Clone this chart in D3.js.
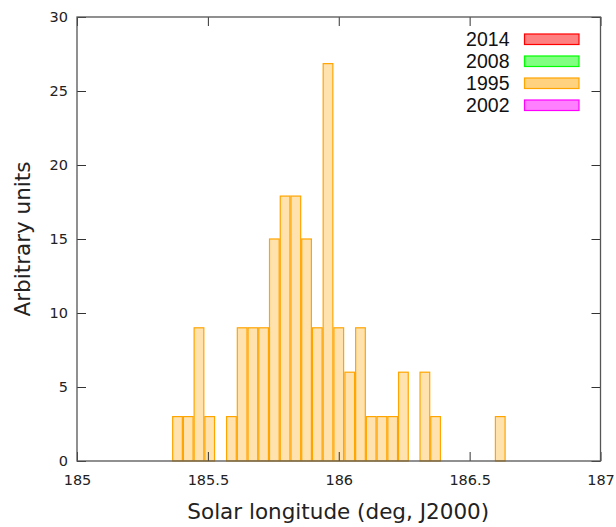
<!DOCTYPE html>
<html>
<head>
<meta charset="utf-8">
<script src="https://cdn.jsdelivr.net/npm/d3@7/dist/d3.min.js"></script>
<style>
  body { margin: 0; background: #fff; }
  svg { display: block; }
</style>
</head>
<body>
<div id="chart"></div>
<script>
// bin centres (solar longitude, deg) and heights of the 1995 histogram
var lonBins = [185.384, 185.425, 185.466, 185.507, 185.590, 185.631, 185.672, 185.713,
  185.754, 185.795, 185.836, 185.877, 185.918, 185.959, 186.000, 186.042, 186.083,
  186.124, 186.165, 186.206, 186.247, 186.329, 186.370, 186.617];
var counts1995 = [3, 3, 9, 3, 3, 9, 9, 9, 15, 17.9, 17.9, 15, 9, 26.85, 9, 6, 9,
  3, 3, 3, 6, 6, 3, 3];
var binWidth = 0.037;

var xTicks = [185, 185.5, 186, 186.5, 187];
var yTicks = [0, 5, 10, 15, 20, 25, 30];

var legendYears = ['2014', '2008', '1995', '2002'];
var legendFill = ['#ff8080', '#80ff80', '#ffd280', '#ff80ff'];
var legendStroke = ['#ff0000', '#00ff00', '#ffa500', '#ff00ff'];

var width = 616, height = 527;
var mLeft = 77, mRight = 600.5, mTop = 17, mBottom = 461;

var svg = d3.select('#chart').append('svg')
  .attr('width', width)
  .attr('height', height);

var x = d3.scaleLinear().domain([185, 187]).range([mLeft, mRight]);
var y = d3.scaleLinear().domain([0, 30]).range([mBottom, mTop]);

// bars
svg.append('g')
  .selectAll('rect')
  .data(lonBins)
  .enter()
  .append('rect')
  .attr('x', function (d) { return x(d - binWidth / 2); })
  .attr('width', function (d) { return x(d + binWidth / 2) - x(d - binWidth / 2); })
  .attr('y', function (d, i) { return y(counts1995[i]); })
  .attr('height', function (d, i) { return y(0) - y(counts1995[i]); })
  .style('fill', '#ffe2ae')
  .style('stroke', '#ffa500')
  .style('stroke-width', 1.2);

// axes with inward ticks, mirrored
var tickColor = '#333';
var axisFont = 'DejaVu Sans, sans-serif';

var xb = svg.append('g').attr('transform', 'translate(0,' + mBottom + ')')
  .call(d3.axisBottom(x).tickValues(xTicks).tickSizeInner(-9).tickSizeOuter(0)
    .tickFormat(d3.format('')).tickPadding(14));
var xt = svg.append('g').attr('transform', 'translate(0,' + mTop + ')')
  .call(d3.axisTop(x).tickValues(xTicks).tickSizeInner(-9).tickSizeOuter(0)
    .tickFormat(''));
var yl = svg.append('g').attr('transform', 'translate(' + mLeft + ',0)')
  .call(d3.axisLeft(y).tickValues(yTicks).tickSizeInner(-9).tickSizeOuter(0)
    .tickPadding(9));
var yr = svg.append('g').attr('transform', 'translate(' + mRight + ',0)')
  .call(d3.axisRight(y).tickValues(yTicks).tickSizeInner(-9).tickSizeOuter(0)
    .tickFormat(''));

[xb, xt, yl, yr].forEach(function (g) {
  g.select('.domain').remove();
  g.selectAll('line').attr('stroke', tickColor);
  g.selectAll('text')
    .style('font-family', axisFont)
    .style('font-size', '14.5px')
    .attr('fill', '#222');
});

// border
svg.append('rect')
  .attr('x', mLeft).attr('y', mTop)
  .attr('width', mRight - mLeft).attr('height', mBottom - mTop)
  .attr('fill', 'none')
  .attr('stroke', '#555')
  .attr('stroke-width', 1.3);

// axis titles
svg.append('text')
  .attr('x', (mLeft + mRight) / 2 - 0.5)
  .attr('y', 519)
  .attr('text-anchor', 'middle')
  .style('font-family', axisFont)
  .style('font-size', '21.5px')
  .attr('fill', '#222')
  .text('Solar longitude (deg, J2000)');

svg.append('text')
  .attr('transform', 'translate(30,' + 239 + ') rotate(-90)')
  .attr('text-anchor', 'middle')
  .style('font-family', axisFont)
  .style('font-size', '21.5px')
  .attr('fill', '#222')
  .text('Arbitrary units');

// legend
var legend = svg.append('g');
legendYears.forEach(function (yr, i) {
  var cy = 39.2 + i * 22;
  legend.append('text')
    .attr('x', 509.5)
    .attr('y', cy + 7)
    .attr('text-anchor', 'end')
    .style('font-family', 'Liberation Sans, Arial, sans-serif')
    .style('font-size', '19.5px')
    .attr('fill', '#111')
    .text(yr);
  legend.append('rect')
    .attr('x', 524.5)
    .attr('y', cy - 5.2)
    .attr('width', 54.5)
    .attr('height', 10.5)
    .attr('fill', legendFill[i])
    .attr('stroke', legendStroke[i])
    .attr('stroke-width', 1.2);
});
</script>
</body>
</html>
